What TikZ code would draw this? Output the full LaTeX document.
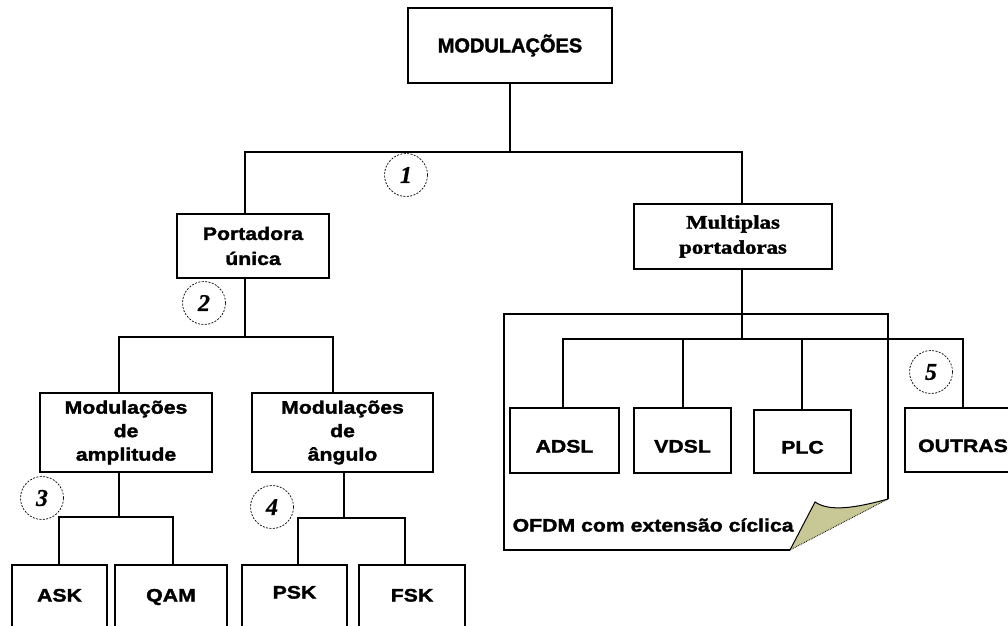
\documentclass[tikz,border=0pt]{standalone}
\usepackage{fontspec}
\setmainfont{Liberation Sans}
\newfontfamily\lblfont[FakeStretch=1.18,FakeBold=1.8]{Liberation Sans}
\newfontfamily\titfont[FakeStretch=1.0,FakeBold=1.8]{Liberation Sans}
\newfontfamily\serfont[FakeStretch=1.2,FakeBold=1.8]{Liberation Serif}
\newfontfamily\numfont[FakeBold=0.8]{Liberation Serif}
\definecolor{flap}{RGB}{200,200,150}
\begin{document}
\begin{tikzpicture}[x=1pt,y=-1pt, line width=1.3pt,
  box/.style={draw, rectangle, inner sep=0pt, align=center,
    font=\lblfont\bfseries\fontsize{18}{24}\selectfont},
  row/.style={text height=25pt, text depth=1pt},
  low/.style={text height=14pt, text depth=3pt},
  lowp/.style={text height=9pt, text depth=4pt},
  num/.style={draw, circle, dash pattern=on 2pt off 1.4pt, line width=0.7pt, minimum size=43pt,
    inner sep=0pt, font=\numfont\bfseries\itshape\fontsize{24}{24}\selectfont}]
\useasboundingbox (0,0) rectangle (1008,625);
\clip (0,0) rectangle (1008,625);

% note shape (OFDM)
\draw (790,550) -- (504,550) -- (504,314) -- (888,314) -- (888,499);
\fill[flap] (790,550) -- (815,502) .. controls (830,512) and (855,508) .. (888,499) -- cycle;
\draw[line width=1pt] (790,550) -- (815,502) .. controls (830,512) and (855,508) .. (888,499);
\draw[line width=0.8pt, densely dotted] (790,550) -- (888,499);
\node[anchor=west, inner sep=0pt, font=\lblfont\bfseries\fontsize{18}{24}\selectfont] (ofdm) at (512,525) {OFDM com extensão cíclica};

% boxes
\node[box, minimum width=204, minimum height=75, font=\titfont\bfseries\fontsize{20}{24}\selectfont] (mod) at (510,45.5) {MODULAÇÕES};
\node[box, minimum width=152, minimum height=64, font=\lblfont\bfseries\fontsize{18}{25}\selectfont] (port) at (253,246) {Portadora\\única};
\node[box, minimum width=198, minimum height=65, font=\serfont\bfseries\fontsize{19}{25}\selectfont] (multi) at (733,236.5) {Multiplas\\portadoras};
\node[box, minimum width=172, minimum height=79, font=\lblfont\bfseries\fontsize{18}{23.5}\selectfont] (amp) at (126,432.5) {Modulações\\de\\amplitude};
\node[box, minimum width=181, minimum height=79, font=\lblfont\bfseries\fontsize{18}{23.5}\selectfont] (ang) at (342.5,432.5) {Modulações\\de\\ângulo};
\node[box, low, minimum width=95, minimum height=62] (ask) at (59.5,596) {ASK};
\node[box, low, minimum width=112, minimum height=62] (qam) at (171,596) {QAM};
\node[box, lowp, minimum width=105, minimum height=62] (psk) at (294.5,596) {PSK};
\node[box, low, minimum width=106, minimum height=62] (fsk) at (412,596) {FSK};
\node[box, row, minimum width=109, minimum height=65] (adsl) at (564.5,440.5) {ADSL};
\node[box, row, minimum width=97, minimum height=65] (vdsl) at (682.5,440.5) {VDSL};
\node[box, row, minimum width=97, minimum height=63] (plc) at (802.5,441.5) {PLC};
\node[box, row, minimum width=116, minimum height=64] (outras) at (963,440) {OUTRAS};

% bus coordinates
\coordinate (b1L) at (245,152);
\coordinate (b1R) at (742,152);
\coordinate (b2) at (742,339);
\coordinate (b2a) at (563,339);
\coordinate (b2b) at (683,339);
\coordinate (b2c) at (802,339);
\coordinate (b2d) at (963,339);
\coordinate (b3L) at (245,337);
\coordinate (b3a) at (119,337);
\coordinate (b3b) at (333,337);
\coordinate (b4L) at (59,517);
\coordinate (b4R) at (173,517);
\coordinate (b4c) at (119,517);
\coordinate (b5L) at (298,518);
\coordinate (b5R) at (405,518);
\coordinate (b5c) at (344,518);

% connectors
\draw (mod.south) -- (mod.south |- b1L);
\draw (port.north -| b1L) -- (b1L) -- (b1R) -- (multi.north -| b1R);
\draw (multi.south -| b2) -- (b2);
\draw (adsl.north -| b2a) -- (b2a) -- (b2d) -- (outras.north -| b2d);
\draw (vdsl.north -| b2b) -- (b2b);
\draw (plc.north -| b2c) -- (b2c);
\draw (port.south -| b3L) -- (b3L);
\draw (amp.north -| b3a) -- (b3a) -- (b3b) -- (ang.north -| b3b);
\draw (amp.south -| b4c) -- (b4c);
\draw (ask.north -| b4L) -- (b4L) -- (b4R) -- (qam.north -| b4R);
\draw (ang.south -| b5c) -- (b5c);
\draw (psk.north -| b5L) -- (b5L) -- (b5R) -- (fsk.north -| b5R);

% numbered circles
\node[num] (n1) at (406,175) {1};
\node[num] (n2) at (204,303) {2};
\node[num] (n3) at (42,498) {3};
\node[num] (n4) at (272,507) {4};
\node[num] (n5) at (931,372) {5};
\end{tikzpicture}
\end{document}
